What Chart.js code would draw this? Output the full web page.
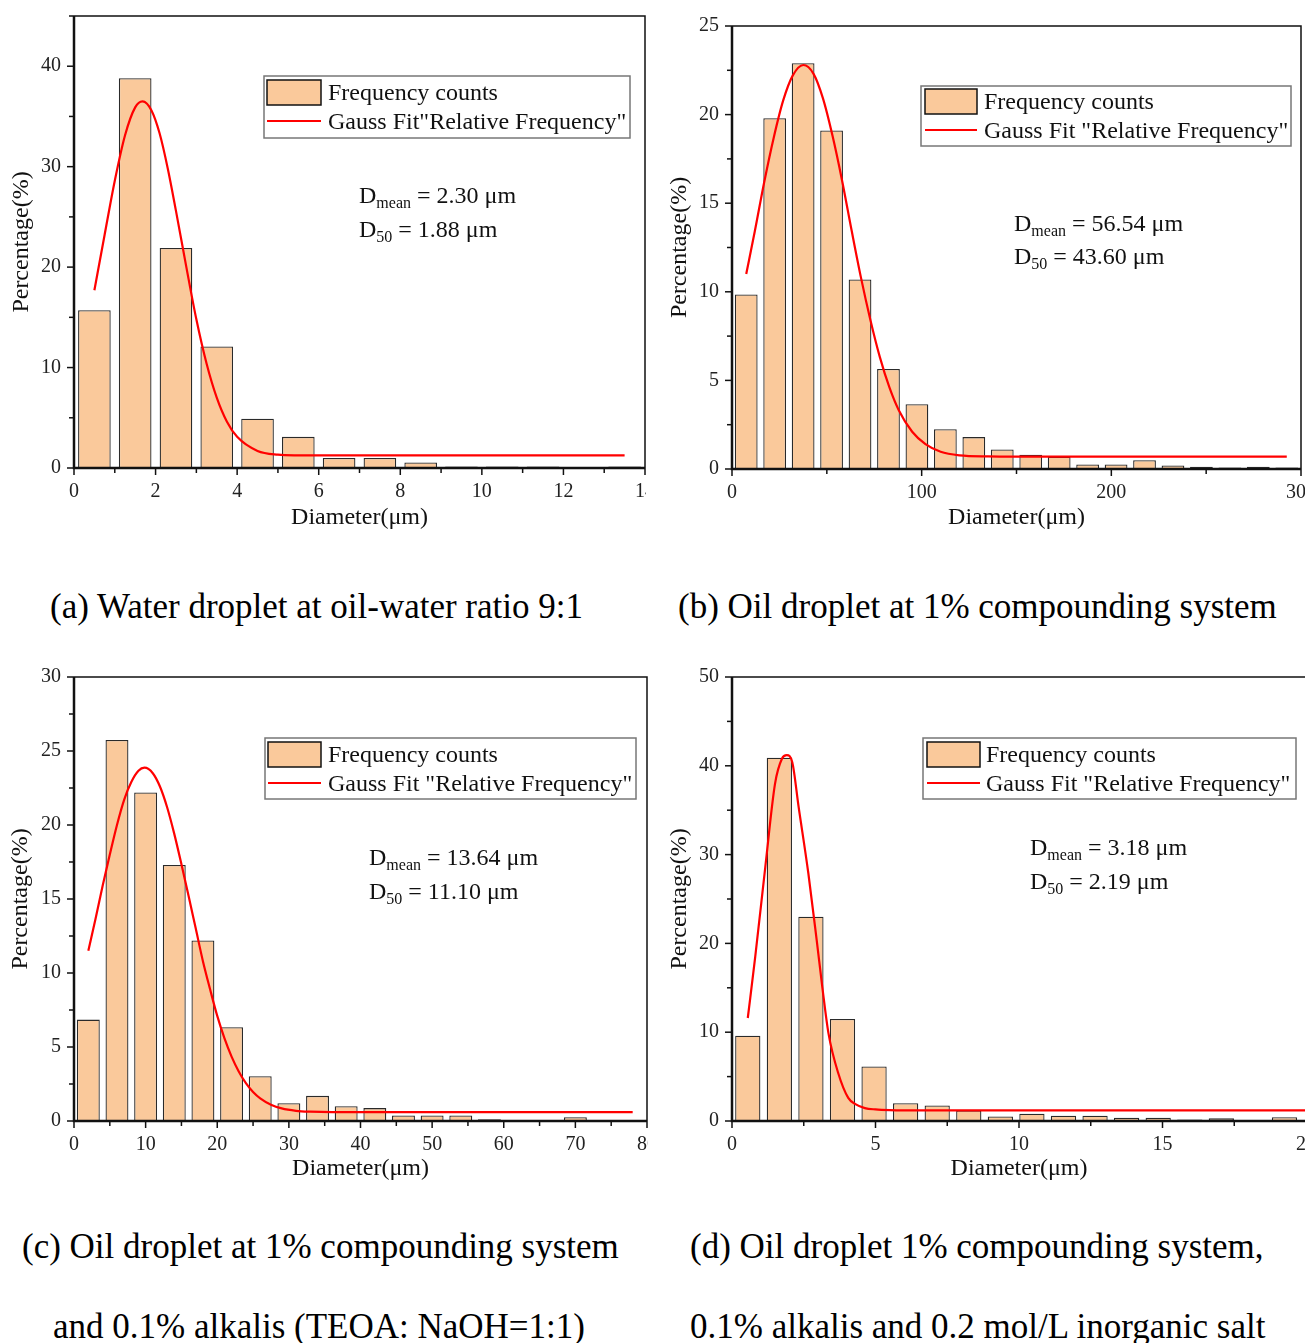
<!DOCTYPE html>
<html lang="en">
<head>
<meta charset="UTF-8">
<script src="https://cdn.jsdelivr.net/npm/chart.js"></script>
<style>
  body { margin:0; background:#fff; width:1305px; height:1343px; overflow:hidden; position:relative;
         font-family:"Liberation Serif","Times New Roman",serif; }
  .panel { position:absolute; overflow:hidden; }
  .cap { position:absolute; font-size:35px; line-height:40px; white-space:nowrap; color:#000; }
</style>
</head>
<body>
<div class="panel" style="left:0;top:0;width:646px;height:540px"><canvas id="chartA" width="675" height="540"></canvas></div>
<div class="panel" style="left:655px;top:0;width:650px;height:540px"><canvas id="chartB" width="676" height="540"></canvas></div>
<div class="panel" style="left:0;top:650px;width:648px;height:540px"><canvas id="chartC" width="677" height="540"></canvas></div>
<div class="panel" style="left:655px;top:650px;width:650px;height:540px"><canvas id="chartD" width="681" height="540"></canvas></div>

<div class="cap" style="left:50px;top:587px">(a) Water droplet at oil-water ratio 9:1</div>
<div class="cap" style="left:678px;top:587px">(b) Oil droplet at 1% compounding system</div>
<div class="cap" style="left:22px;top:1227px">(c) Oil droplet at 1% compounding system</div>
<div class="cap" style="left:53px;top:1307px">and 0.1% alkalis (TEOA: NaOH=1:1)</div>
<div class="cap" style="left:690px;top:1227px">(d) Oil droplet 1% compounding system,</div>
<div class="cap" style="left:690px;top:1307px">0.1% alkalis and 0.2 mol/L inorganic salt</div>

<script>
// (a) water droplet, oil-water 9:1
const binsA = [0.5, 1.5, 2.5, 3.5, 4.5, 5.5, 6.5, 7.5, 8.5, 9.5, 10.5, 11.5, 12.5, 13.5]
const freqA = [15.7, 38.8, 21.9, 12.1, 4.9, 3.1, 1.0, 1.0, 0.55, 0.15, 0.15, 0.15, 0, 0.15]
const fitXA = [0.5, 0.75, 1.0, 1.25, 1.5, 1.68, 1.9, 2.1, 2.3, 2.5, 2.75, 3.0, 3.25, 3.5, 3.75, 4.0, 4.5, 5.0, 5.5, 6.0, 8, 10, 12, 13.5]
const fitYA = [17.7, 23.2, 28.6, 33.1, 35.9, 36.5, 35.6, 33.3, 29.8, 25.6, 20.1, 14.8, 10.4, 7.0, 4.6, 3.1, 1.7, 1.33, 1.26, 1.25, 1.25, 1.25, 1.25, 1.25]
const xTicksA = [0, 2, 4, 6, 8, 10, 12, 14]
const yTicksA = [0, 10, 20, 30, 40]

// (b) oil droplet, 1% compounding system
const binsB = [7.5, 22.5, 37.5, 52.5, 67.5, 82.5, 97.5, 112.5, 127.5, 142.5, 157.5, 172.5, 187.5, 202.5, 217.5, 232.5, 247.5, 262.5, 277.5, 292.5]
const freqB = [9.85, 19.8, 22.9, 19.1, 10.7, 5.65, 3.65, 2.25, 1.8, 1.1, 0.8, 0.7, 0.25, 0.25, 0.5, 0.2, 0.12, 0.08, 0.12, 0.08]
const fitXB = [7.5, 12, 17, 22, 27, 32, 37.6, 43, 48, 53, 58, 63, 68, 73, 78, 83, 88, 95, 102, 110, 120, 135, 150, 200, 250, 292.5]
const fitYB = [11.0, 13.4, 16.2, 18.7, 20.8, 22.2, 22.8, 22.3, 20.9, 18.8, 16.3, 13.5, 10.8, 8.4, 6.3, 4.6, 3.3, 2.1, 1.4, 0.97, 0.77, 0.71, 0.7, 0.7, 0.7, 0.7]
const xTicksB = [0, 100, 200, 300]
const yTicksB = [0, 5, 10, 15, 20, 25]

// (c) oil droplet, 1% compounding + 0.1% alkalis
const binsC = [2, 6, 10, 14, 18, 22, 26, 30, 34, 38, 42, 46, 50, 54, 58, 62, 66, 70, 74, 78]
const freqC = [6.85, 25.75, 22.2, 17.3, 12.2, 6.33, 3.03, 1.2, 1.7, 1.0, 0.87, 0.37, 0.37, 0.37, 0.12, 0, 0, 0.25, 0, 0]
const fitXC = [2, 3, 4, 5, 6, 7, 8, 9, 9.84, 11, 12, 13, 14, 15, 16, 17, 18, 19, 20, 21, 22, 23, 24, 25, 26, 27.5, 29, 31, 33, 36, 50, 65, 78]
const fitYC = [11.5, 13.65, 15.9, 18.0, 20.0, 21.7, 22.9, 23.66, 23.87, 23.5, 22.6, 21.2, 19.4, 17.35, 15.2, 13.0, 10.8, 8.9, 7.1, 5.6, 4.35, 3.35, 2.56, 1.96, 1.53, 1.1, 0.85, 0.69, 0.63, 0.6, 0.6, 0.6, 0.6]
const xTicksC = [0, 10, 20, 30, 40, 50, 60, 70, 80]
const yTicksC = [0, 5, 10, 15, 20, 25, 30]

// (d) oil droplet, 1% compounding + alkalis + salt
const binsD = [0.55, 1.65, 2.75, 3.85, 4.95, 6.05, 7.15, 8.25, 9.35, 10.45, 11.55, 12.65, 13.75, 14.85, 15.95, 17.05, 18.15, 19.25]
const freqD = [9.6, 40.9, 23.0, 11.5, 6.15, 2.0, 1.75, 1.2, 0.5, 0.83, 0.6, 0.6, 0.37, 0.37, 0.18, 0.3, 0.12, 0.42]
const fitXD = [0.55, 0.81, 1.16, 1.5, 1.74, 1.91, 2.1, 2.32, 2.66, 2.95, 3.15, 3.36, 3.7, 4.05, 4.3, 4.63, 5.0, 5.5, 6, 10, 15, 20]
const fitYD = [11.6, 18.5, 28.6, 38.0, 40.8, 41.2, 40.4, 35.4, 27.9, 20.4, 15.0, 9.9, 5.4, 2.6, 1.9, 1.45, 1.3, 1.22, 1.2, 1.2, 1.2, 1.2]
const xTicksD = [0, 5, 10, 15, 20]
const yTicksD = [0, 10, 20, 30, 40, 50]

const SERIF = '"Liberation Serif", "Times New Roman", serif'
const FILL = '#fac99b'

// frame, tick marks, legend box and the D values
const deco = {
  id: 'deco',
  afterDraw(chart, args, o) {
    const ctx = chart.ctx
    const a = chart.chartArea
    const xs = chart.scales.x, ys = chart.scales.y
    ctx.save()
    ctx.strokeStyle = '#111'
    ctx.lineWidth = 1.5
    ys.ticks.forEach(t => {
      const y = ys.getPixelForValue(t.value)
      const len = o.yTicks.includes(t.value) ? 7 : 5
      ctx.beginPath(); ctx.moveTo(a.left, y); ctx.lineTo(a.left - len, y); ctx.stroke()
    })
    xs.ticks.forEach(t => {
      const x = xs.getPixelForValue(t.value)
      const len = o.xTicks.includes(t.value) ? 7 : 5
      ctx.beginPath(); ctx.moveTo(x, a.bottom); ctx.lineTo(x, a.bottom + len); ctx.stroke()
    })
    ctx.lineWidth = 1.5
    ctx.beginPath()
    ctx.moveTo(a.left, a.top); ctx.lineTo(a.right, a.top); ctx.lineTo(a.right, a.bottom)
    ctx.stroke()
    ctx.lineWidth = 2.5
    ctx.beginPath()
    ctx.moveTo(a.left, a.top); ctx.lineTo(a.left, a.bottom); ctx.lineTo(a.right, a.bottom)
    ctx.stroke()

    // legend
    const L = o.legend
    ctx.fillStyle = '#fff'
    ctx.fillRect(L.x, L.y, L.w, L.h)
    ctx.strokeStyle = '#777'
    ctx.lineWidth = 1.5
    ctx.strokeRect(L.x, L.y, L.w, L.h)
    ctx.fillStyle = FILL
    ctx.fillRect(L.sx, L.sy, L.sw, 25)
    ctx.strokeStyle = '#111'
    ctx.strokeRect(L.sx, L.sy, L.sw, 25)
    ctx.strokeStyle = '#ff0000'
    ctx.lineWidth = 2.2
    ctx.beginPath(); ctx.moveTo(L.sx, L.ly); ctx.lineTo(L.sx + L.sw, L.ly); ctx.stroke()
    ctx.fillStyle = '#111'
    ctx.font = '24px ' + SERIF
    ctx.textBaseline = 'alphabetic'
    ctx.textAlign = 'left'
    ctx.fillText('Frequency counts', L.tx, L.b1)
    ctx.fillText(o.fitLabel, L.tx, L.b2)

    // D mean / D50
    const N = o.note
    const put = (sub, rest, base) => {
      ctx.font = '24px ' + SERIF
      ctx.fillText('D', N.x, base)
      const w1 = ctx.measureText('D').width
      ctx.font = '16px ' + SERIF
      ctx.fillText(sub, N.x + w1, base + 5)
      const w2 = ctx.measureText(sub).width
      ctx.font = '24px ' + SERIF
      ctx.fillText(rest, N.x + w1 + w2, base)
    }
    put('mean', ' = ' + o.dMean + ' \u03bcm', N.b1)
    put('50', ' = ' + o.d50 + ' \u03bcm', N.b2)
    ctx.restore()
  }
}

function makeChart(id, c) {
  const canvas = document.getElementById(id)
  const W = canvas.width, H = canvas.height
  const bars = c.bins.map((x, i) => ({ x: x, y: c.freq[i] }))
  const fit = c.fitX.map((x, i) => ({ x: x, y: c.fitY[i] }))
  new Chart(canvas, {
    type: 'bar',
    data: {
      datasets: [
        { type: 'line', label: c.fitLabel, data: fit, borderColor: '#ff0000', borderWidth: 2.2,
          pointRadius: 0, cubicInterpolationMode: 'monotone', fill: false, order: 0 },
        { type: 'bar', label: 'Frequency counts', data: bars, backgroundColor: FILL,
          borderColor: '#2a2a2a', borderWidth: 1.3, barPercentage: 0.8, categoryPercentage: 1.0, order: 1 }
      ]
    },
    options: {
      responsive: false,
      animation: false,
      events: [],
      layout: { padding: { left: 0, top: c.area.top, right: W - c.area.right, bottom: 0 } },
      plugins: {
        legend: { display: false },
        tooltip: { enabled: false },
        deco: { xTicks: c.xTicks, yTicks: c.yTicks, legend: c.legend, note: c.note,
                fitLabel: c.fitLabel, dMean: c.dMean, d50: c.d50 }
      },
      scales: {
        x: {
          type: 'linear', min: 0, max: c.xTicks[c.xTicks.length - 1], offset: false,
          grid: { display: false, drawTicks: false }, border: { display: false },
          ticks: { stepSize: c.xStep, autoSkip: false, maxRotation: 0, padding: 12, color: '#222',
                   font: { family: SERIF, size: 20 },
                   callback: v => c.xTicks.includes(v) ? String(v) : '' },
          title: { display: true, text: 'Diameter(\u03bcm)', color: '#111',
                   font: { family: SERIF, size: 24 }, padding: { top: 0, bottom: c.xTitlePad } },
          afterFit: s => { s.height = H - c.area.bottom; s.paddingLeft = 0; s.paddingRight = 0 }
        },
        y: {
          min: 0, max: c.yMax,
          grid: { display: false, drawTicks: false }, border: { display: false },
          ticks: { stepSize: c.yStep, autoSkip: false, padding: 13, color: '#222',
                   font: { family: SERIF, size: 20 },
                   callback: v => c.yTicks.includes(v) ? String(v) : '' },
          title: { display: true, text: 'Percentage(%)', color: '#111',
                   font: { family: SERIF, size: 24 }, padding: { top: c.yTitlePad, bottom: 0 } },
          afterFit: s => { s.width = c.area.left; s.paddingTop = 0; s.paddingBottom = 0 }
        }
      }
    },
    plugins: [deco]
  })
}

makeChart('chartA', {
  bins: binsA, freq: freqA, fitX: fitXA, fitY: fitYA, xTicks: xTicksA, yTicks: yTicksA,
  xStep: 1, yStep: 5, yMax: 45,
  area: { left: 74, top: 16, right: 645, bottom: 468 },
  xTitlePad: 7.6, yTitlePad: 7.6,
  fitLabel: 'Gauss Fit"Relative Frequency"', dMean: '2.30', d50: '1.88',
  legend: { x: 264, y: 76, w: 366, h: 62, sx: 267, sy: 80, sw: 54, ly: 121, tx: 328, b1: 100, b2: 129 },
  note: { x: 359, b1: 203, b2: 237 }
})

makeChart('chartB', {
  bins: binsB, freq: freqB, fitX: fitXB, fitY: fitYB, xTicks: xTicksB, yTicks: yTicksB,
  xStep: 50, yStep: 2.5, yMax: 25,
  area: { left: 77, top: 26, right: 646, bottom: 469 },
  xTitlePad: 7.6, yTitlePad: 10.6,
  fitLabel: 'Gauss Fit "Relative Frequency"', dMean: '56.54', d50: '43.60',
  legend: { x: 266, y: 86, w: 370, h: 60, sx: 270, sy: 89, sw: 52, ly: 130, tx: 329, b1: 109, b2: 138 },
  note: { x: 359, b1: 231, b2: 264 }
})

makeChart('chartC', {
  bins: binsC, freq: freqC, fitX: fitXC, fitY: fitYC, xTicks: xTicksC, yTicks: yTicksC,
  xStep: 5, yStep: 2.5, yMax: 30,
  area: { left: 74, top: 27, right: 647, bottom: 471 },
  xTitlePad: 6.6, yTitlePad: 6.6,
  fitLabel: 'Gauss Fit "Relative Frequency"', dMean: '13.64', d50: '11.10',
  legend: { x: 265, y: 88, w: 371, h: 61, sx: 268, sy: 92, sw: 53, ly: 133, tx: 328, b1: 112, b2: 141 },
  note: { x: 369, b1: 215, b2: 249 }
})

makeChart('chartD', {
  bins: binsD, freq: freqD, fitX: fitXD, fitY: fitYD, xTicks: xTicksD, yTicks: yTicksD,
  xStep: 2.5, yStep: 5, yMax: 50,
  area: { left: 77, top: 27, right: 651, bottom: 471 },
  xTitlePad: 6.6, yTitlePad: 10.6,
  fitLabel: 'Gauss Fit "Relative Frequency"', dMean: '3.18', d50: '2.19',
  legend: { x: 268, y: 88, w: 373, h: 61, sx: 272, sy: 92, sw: 53, ly: 133, tx: 331, b1: 112, b2: 141 },
  note: { x: 375, b1: 205, b2: 239 }
})
</script>
</body>
</html>
